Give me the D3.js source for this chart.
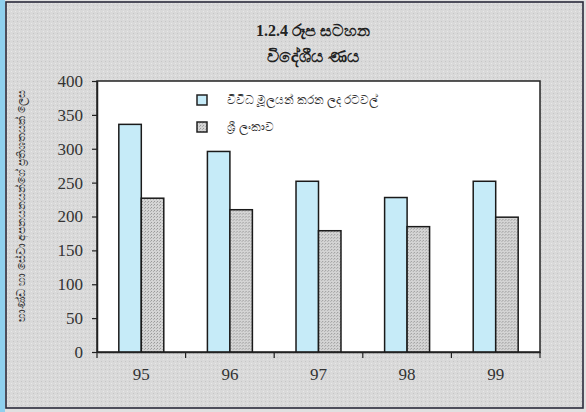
<!DOCTYPE html>
<html lang="si">
<head>
<meta charset="utf-8"/>
<script src="https://d3js.org/d3.v7.min.js"></script>
<style>
  body { margin: 0; background: #fff; }
  .serif { font-family: "Liberation Serif", "DejaVu Serif", "Times New Roman", serif !important; }
</style>
</head>
<body>
<div id="chart"></div>
<script>
// foreign debt, % of exports of goods and services
var years = ["95", "96", "97", "98", "99"];
var diversified = [336, 296, 252, 228, 252];
var sriLanka = [227, 210, 179, 185, 199];
var seriesNames = ["විවිධ මූලයන් කරන ලද රටවල්", "ශ්‍රී ලංකාව"];
var yTicks = [0, 50, 100, 150, 200, 250, 300, 350, 400];

var W = 586, H = 412;
var margin = {top: 81, right: 46, bottom: 60, left: 97};
var width = 540 - margin.left;
var height = 352 - margin.top;

var svg = d3.select("#chart").append("svg")
    .attr("width", W)
    .attr("height", H);

var defs = svg.append("defs");
var pat = defs.append("pattern")
    .attr("id", "stipple")
    .attr("width", 3).attr("height", 3)
    .attr("patternUnits", "userSpaceOnUse");
pat.append("rect").attr("width", 3).attr("height", 3).attr("fill", "#d4d4d4");
pat.append("rect").attr("x", 0).attr("y", 0).attr("width", 1).attr("height", 1).attr("fill", "#999");
pat.append("rect").attr("x", 2).attr("y", 1).attr("width", 1).attr("height", 1).attr("fill", "#adadad");

var bgPat = defs.append("pattern")
    .attr("id", "paper")
    .attr("width", 4).attr("height", 4)
    .attr("patternUnits", "userSpaceOnUse");
bgPat.append("rect").attr("width", 4).attr("height", 4).attr("fill", "#d9d9d9");
bgPat.append("rect").attr("x", 1).attr("y", 1).attr("width", 1).attr("height", 1).attr("fill", "#c6c6c6");
bgPat.append("rect").attr("x", 3).attr("y", 3).attr("width", 1).attr("height", 1).attr("fill", "#e8e8e8");

// page background and frame
svg.append("rect").attr("width", W).attr("height", H).attr("fill", "#e0e0e0");
svg.append("rect").attr("x", 0).attr("y", 0).attr("width", 5).attr("height", H).attr("fill", "#8fd0ee");
svg.append("rect")
    .attr("x", 6).attr("y", 2)
    .attr("width", 577).attr("height", 406)
    .attr("fill", "url(#paper)")
    .attr("stroke", "#2a2a3a")
    .attr("stroke-width", 1.6);

// titles
svg.append("text")
    .attr("x", 313).attr("y", 36)
    .attr("text-anchor", "middle")
    .attr("class", "serif")
    .style("font-size", "16px")
    .style("font-weight", "bold")
    .attr("fill", "#222")
    .text("1.2.4 රූප සටහන");
svg.append("text")
    .attr("x", 313).attr("y", 62)
    .attr("text-anchor", "middle")
    .attr("class", "serif")
    .style("font-size", "17px")
    .style("font-weight", "bold")
    .attr("fill", "#222")
    .text("විදේශීය ණය");

var g = svg.append("g")
    .attr("transform", "translate(" + margin.left + "," + margin.top + ")");

g.append("rect")
    .attr("width", width).attr("height", height)
    .attr("fill", "#fff")
    .attr("stroke", "#222")
    .attr("stroke-width", 1.5);

var x = d3.scaleBand()
    .domain(years)
    .range([0, width])
    .paddingInner(0)
    .paddingOuter(0);

var inner = d3.scaleBand()
    .domain([0, 1])
    .range([0, x.bandwidth()])
    .paddingOuter(0.97)
    .paddingInner(0);

var y = d3.scaleLinear()
    .domain([0, 400])
    .range([height, 0]);

var data = years.map(function (d, i) {
    return {year: d, values: [diversified[i], sriLanka[i]]};
});
var fills = ["#c6ebf8", "url(#stipple)"];

var groups = g.selectAll(".grp")
    .data(data)
    .enter().append("g")
    .attr("transform", function (d) { return "translate(" + x(d.year) + ",0)"; });

groups.selectAll("rect")
    .data(function (d) { return d.values.map(function (v, k) { return {k: k, v: v}; }); })
    .enter().append("rect")
    .attr("x", function (d) { return inner(d.k); })
    .attr("y", function (d) { return y(d.v); })
    .attr("width", inner.bandwidth())
    .attr("height", function (d) { return height - y(d.v); })
    .attr("fill", function (d) { return fills[d.k]; })
    .attr("stroke", "#1a1a1a")
    .attr("stroke-width", 1.5);

// y axis
var yAxis = g.append("g")
    .call(d3.axisLeft(y).tickValues(yTicks).tickSize(5).tickSizeOuter(0).tickPadding(9));
yAxis.attr("font-family", null);
yAxis.select(".domain").attr("stroke", "#222").attr("stroke-width", 1.5);
yAxis.selectAll(".tick line").attr("stroke", "#222").attr("stroke-width", 1.2);
yAxis.selectAll("text")
    .attr("class", "serif")
    .style("font-size", "17px")
    .attr("fill", "#333");

// x axis with ticks at category boundaries
var xAxis = g.append("g")
    .attr("transform", "translate(0," + height + ")")
    .call(d3.axisBottom(x).tickSize(0).tickPadding(16));
xAxis.attr("font-family", null);
xAxis.select(".domain").attr("stroke", "#222").attr("stroke-width", 1.5);
xAxis.selectAll("text")
    .attr("class", "serif")
    .style("font-size", "17px")
    .attr("fill", "#333");
var bounds = years.map(function (d) { return x(d); }).concat([width]);
xAxis.selectAll(".bnd")
    .data(bounds)
    .enter().append("line")
    .attr("x1", function (d) { return d; })
    .attr("x2", function (d) { return d; })
    .attr("y1", 0).attr("y2", 6)
    .attr("stroke", "#222")
    .attr("stroke-width", 1.2);

// legend
var legend = g.append("g").attr("transform", "translate(100,14)");
seriesNames.forEach(function (name, i) {
    var row = legend.append("g").attr("transform", "translate(0," + (i * 27) + ")");
    row.append("rect")
        .attr("x", 0).attr("y", 0)
        .attr("width", 10).attr("height", 10)
        .attr("fill", fills[i])
        .attr("stroke", "#222")
        .attr("stroke-width", 1.5);
    row.append("text")
        .attr("x", 30).attr("y", 9)
        .style("font-family", "'Noto Sans', sans-serif")
        .style("font-size", "11.5px")
        .attr("fill", "#333")
        .text(name);
});

// y axis title
svg.append("text")
    .attr("transform", "translate(25,206) rotate(-90)")
    .attr("text-anchor", "middle")
    .style("font-family", "'Noto Sans', sans-serif")
    .style("font-size", "10.5px")
    .attr("fill", "#333")
    .text("භාණ්ඩ හා සේවා අපනයනයන්ගේ ප්‍රතිශතයක් ලෙස");
</script>
</body>
</html>
